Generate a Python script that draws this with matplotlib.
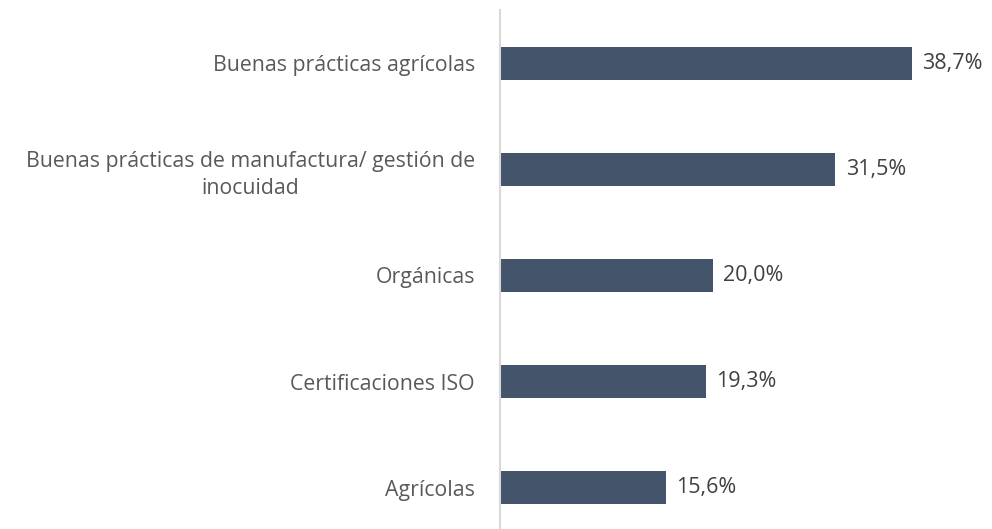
import numpy as np
import matplotlib.pyplot as plt

# Categorías y porcentajes (de arriba hacia abajo)
categorias = ["Buenas prácticas agrícolas",
              "Buenas prácticas de manufactura/ gestión de\ninocuidad",
              "Orgánicas",
              "Certificaciones ISO",
              "Agrícolas"]
valores = [38.7, 31.5, 20.0, 19.3, 15.6]
etiquetas = ["38,7%", "31,5%", "20,0%", "19,3%", "15,6%"]

plt.rcParams['font.family'] = ['Open Sans', 'DejaVu Sans']

fig = plt.figure(figsize=(9.92, 5.29), dpi=100)
ax = fig.add_axes([500 / 992, -12 / 529, 492 / 992, 531 / 529])

y = np.arange(len(categorias))
ax.barh(y, valores, height=0.31, color='#44546a')
ax.set_ylim(len(categorias) - 0.5, -0.5)
ax.set_xlim(0, 46.2)

for yi, v, t in zip(y, valores, etiquetas):
    ax.text(v + 0.95, yi, t, va='center', ha='left', fontsize=15.5, color='#404040')

ax.set_yticks(y)
ax.set_yticklabels(categorias, fontsize=15.3, color='#595959',
                   multialignment='center', linespacing=1.4)
ax.tick_params(axis='y', length=0, pad=18)

ax.set_xticks([])
for s in ['top', 'right', 'bottom']:
    ax.spines[s].set_visible(False)
ax.spines['left'].set_color('#d9d9d9')
ax.spines['left'].set_linewidth(1.5)

fig.savefig('out.png', dpi=100)
